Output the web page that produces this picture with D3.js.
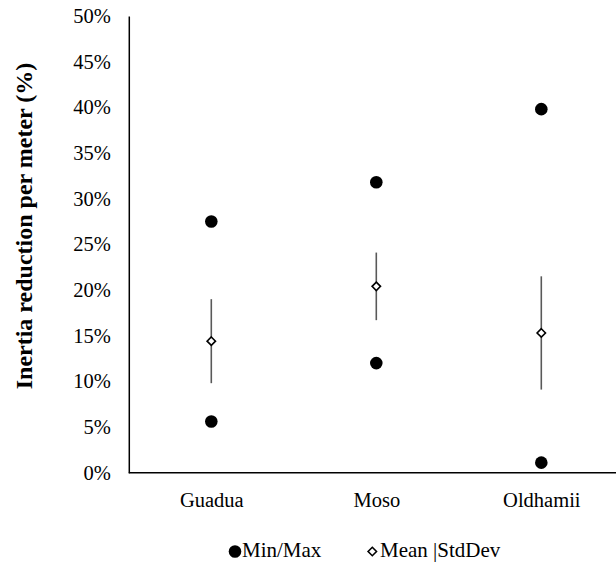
<!DOCTYPE html>
<html>
<head>
<meta charset="utf-8">
<script src="https://cdn.jsdelivr.net/npm/d3@7"></script>
<style>
  html, body { margin: 0; padding: 0; background: #fff; }
  svg { display: block; }
</style>
</head>
<body>
<svg id="chart" width="616" height="562"></svg>
<script>
const categories = ["Guadua", "Moso", "Oldhamii"];
const minVals  = [0.056, 0.120, 0.011];
const maxVals  = [0.275, 0.318, 0.398];
const meanVals = [0.144, 0.204, 0.153];
const stdVals  = [0.046, 0.037, 0.062];
const yTicks   = [0, 0.05, 0.10, 0.15, 0.20, 0.25, 0.30, 0.35, 0.40, 0.45, 0.50];
const yTitle   = "Inertia reduction per meter (%)";
const legendLabels = ["Min/Max", "Mean |StdDev"];

(function () {
const FONT = "Liberation Serif";
const svg = d3.select("#chart");
const pLeft = 128.8, pRight = 623.8, pTop = 16, pBottom = 472.7;

const x = d3.scalePoint().domain(categories).range([pLeft, pRight]).padding(0.5);
const y = d3.scaleLinear().domain([0, 0.5]).range([pBottom, pTop]);

// Y axis
const yAxis = d3.axisLeft(y).tickValues(yTicks).tickSize(0).tickPadding(18)
  .tickFormat(d3.format(".0%"));
const gy = svg.append("g").attr("transform", `translate(${pLeft},0)`).call(yAxis)
  .attr("font-family", FONT);
gy.select(".domain").attr("stroke", "#000").attr("stroke-width", 1.5);
gy.selectAll("text").style("font-size", "20.5px").style("font-family", FONT).attr("fill", "#000");

// X axis
const xAxis = d3.axisBottom(x).tickSize(0).tickPadding(20);
const gx = svg.append("g").attr("transform", `translate(0,${pBottom})`).call(xAxis)
  .attr("font-family", FONT);
gx.select(".domain").attr("stroke", "#000").attr("stroke-width", 1.5)
  .attr("d", `M${pLeft},0H${pRight}`);
gx.selectAll("text").style("font-size", "20.5px").style("font-family", FONT).attr("fill", "#000");

// Std dev whiskers
const stats = categories.map((c, i) => ({c, min: minVals[i], max: maxVals[i], mean: meanVals[i], sd: stdVals[i]}));
svg.append("g").selectAll("line").data(stats).join("line")
  .attr("x1", d => x(d.c)).attr("x2", d => x(d.c))
  .attr("y1", d => y(d.mean + d.sd)).attr("y2", d => y(d.mean - d.sd))
  .attr("stroke", "#595959").attr("stroke-width", 1.6);

// Min / Max dots
const dots = [];
stats.forEach(d => { dots.push({c: d.c, v: d.min}); dots.push({c: d.c, v: d.max}); });
svg.append("g").selectAll("circle").data(dots).join("circle")
  .attr("cx", d => x(d.c)).attr("cy", d => y(d.v)).attr("r", 6.3).attr("fill", "#000");

// Mean diamonds
const diamond = d3.symbol().type(d3.symbolDiamond2).size(45);
svg.append("g").selectAll("path").data(stats).join("path")
  .attr("d", diamond)
  .attr("transform", d => `translate(${x(d.c)},${y(d.mean)})`)
  .attr("fill", "#fff").attr("stroke", "#000").attr("stroke-width", 1.6);

// Y title
svg.append("text")
  .attr("transform", "translate(31.5,226) rotate(-90)")
  .attr("text-anchor", "middle")
  .style("font-family", FONT)
  .style("font-size", "24px").style("font-weight", "bold")
  .attr("fill", "#000")
  .text(yTitle);

// Legend
const ly = 551.5;
const lg = svg.append("g");
lg.append("circle").attr("cx", 235).attr("cy", ly).attr("r", 6.3).attr("fill", "#000");
lg.append("text").attr("x", 242).attr("y", 557.3)
  .style("font-family", FONT).style("font-size", "21px").attr("fill", "#000").text(legendLabels[0]);
lg.append("path").attr("d", diamond)
  .attr("transform", `translate(372.3,${ly})`)
  .attr("fill", "#fff").attr("stroke", "#000").attr("stroke-width", 1.6);
lg.append("text").attr("x", 380).attr("y", 557.3)
  .style("font-family", FONT).style("font-size", "21px").attr("fill", "#000").text(legendLabels[1]);
})();
</script>
</body>
</html>
